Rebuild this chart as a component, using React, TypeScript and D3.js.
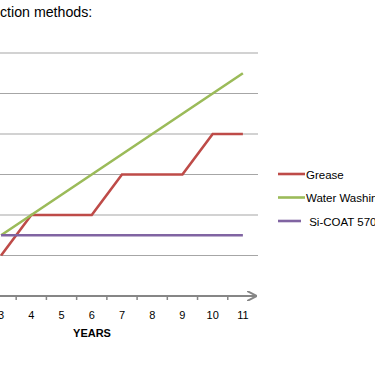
import React, { useEffect, useRef } from "react";
import * as d3 from "d3";

const years = ["1", "2", "3", "4", "5", "6", "7", "8", "9", "10", "11"];
const seriesYears = ["3", "4", "5", "6", "7", "8", "9", "10", "11"];
const greaseValues = [1, 2, 2, 2, 3, 3, 3, 4, 4];
const waterValues = [1.5, 2, 2.5, 3, 3.5, 4, 4.5, 5, 5.5];
const sicoatValues = [1.5, 1.5, 1.5, 1.5, 1.5, 1.5, 1.5, 1.5, 1.5];
const gridValues = [1, 2, 3, 4, 5, 6];
const seriesNames = ["Grease", "Water Washing", " Si-COAT 570"];
const seriesColors = ["#be4b48", "#9bbb59", "#8064a2"];

const W = 375;
const H = 366;
const font = "'Liberation Sans', Arial, sans-serif";

export default function App() {
  const axisRef = useRef<SVGGElement>(null);

  const x = d3.scaleBand().domain(years).range([-74.5, 258]).paddingInner(0).paddingOuter(0);
  const y = d3.scaleLinear().domain([0, 6]).range([296, 53]);
  const cx = (yr: string) => (x(yr) as number) + x.bandwidth() / 2;

  const allSeries = [greaseValues, waterValues, sicoatValues];
  const line = d3
    .line<number>()
    .x((_, i) => cx(seriesYears[i]))
    .y((d) => y(d));

  useEffect(() => {
    if (!axisRef.current) return;
    // only the visible years get a label
    const ax = d3.axisBottom(x).tickValues(seriesYears).tickSize(0).tickPadding(15);
    const g = d3.select(axisRef.current);
    g.call(ax);
    g.select(".domain").remove();
    g.selectAll("text")
      .attr("font-family", font)
      .attr("font-size", 11)
      .attr("fill", "#000");
  }, []);

  // tick marks sit on the band boundaries
  const boundaries = years.slice(1).map((yr) => x(yr) as number);

  return (
    <div style={{ position: "absolute", left: 0, top: 0 }}>
      <svg width={W} height={H} style={{ display: "block", background: "#fff" }}>
        <defs>
          <marker id="arrow" viewBox="0 0 10 10" refX="9" refY="5" markerWidth="5" markerHeight="5" orient="auto">
            <path d="M0,0 L10,5 L0,10" fill="none" stroke="#868686" strokeWidth={2} />
          </marker>
        </defs>

        <text x={0} y={17} fontFamily={font} fontSize={14.2} fill="#000">
          ction methods:
        </text>

        {gridValues.map((v) => (
          <line key={v} x1={0} x2={258} y1={y(v)} y2={y(v)} stroke="#a6a6a6" strokeWidth={1.2} />
        ))}

        <line x1={0} x2={256} y1={y(0)} y2={y(0)} stroke="#868686" strokeWidth={2} markerEnd="url(#arrow)" />
        {boundaries.map((b, i) => (
          <line key={i} x1={b} x2={b} y1={y(0)} y2={y(0) + 4} stroke="#868686" strokeWidth={1.5} />
        ))}
        <g ref={axisRef} transform={`translate(0,${y(0)})`} />

        <text x={92} y={337} textAnchor="middle" fontFamily={font} fontSize={11} fontWeight="bold" fill="#000">
          YEARS
        </text>

        {allSeries.map((s, i) => (
          <path key={i} d={line(s) || ""} fill="none" stroke={seriesColors[i]} strokeWidth={2.6} strokeLinejoin="miter" />
        ))}

        {seriesNames.map((n, i) => (
          <g key={n} transform={`translate(278,${174 + i * 23.5})`}>
            <line x1={0} x2={i === 2 ? 23 : 27} y1={0} y2={0} stroke={seriesColors[i]} strokeWidth={2.6} />
            <text x={28} y={4.5} fontFamily={font} fontSize={11.5} fill="#000" style={{ whiteSpace: "pre" }}>
              {n}
            </text>
          </g>
        ))}
      </svg>
    </div>
  );
}
